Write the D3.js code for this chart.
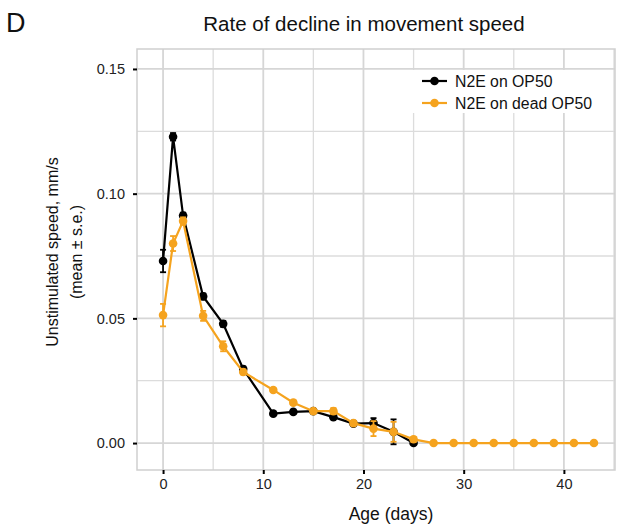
<!DOCTYPE html>
<html><head><meta charset="utf-8">
<script src="https://cdn.jsdelivr.net/npm/d3@7"></script>
<style>body{margin:0;background:#fff}svg{display:block;font-family:"Liberation Sans",Arial,sans-serif}</style>
</head><body>
<svg id="c" width="618" height="529"></svg>
<script>
const seriesNames = ["N2E on OP50", "N2E on dead OP50"];
const seriesColors = ["#000000", "#F5A31E"];
const daysOP50 = [0, 1, 2, 4, 6, 8, 11, 13, 15, 17, 19, 21, 23, 25];
const speedOP50 = [0.073, 0.1228, 0.0912, 0.0588, 0.0478, 0.0297, 0.0118, 0.0125, 0.0128, 0.0104, 0.0078, 0.008, 0.0045, 0.0];
const seOP50 = [0.0045, 0.0015, 0.0012, 0.0012, 0.0012, 0.001, 0.0006, 0.0006, 0.0006, 0.0006, 0.0006, 0.002, 0.005, 0.0];
const daysDead = [0, 1, 2, 4, 6, 8, 11, 13, 15, 17, 19, 21, 23, 25, 27, 29, 31, 33, 35, 37, 39, 41, 43];
const speedDead = [0.0513, 0.080, 0.089, 0.051, 0.0388, 0.0285, 0.0213, 0.0162, 0.0128, 0.0128, 0.008, 0.0058, 0.0045, 0.0015, 0, 0, 0, 0, 0, 0, 0, 0, 0];
const seDead = [0.0045, 0.003, 0.0015, 0.002, 0.002, 0.001, 0.0008, 0.0008, 0.0008, 0.0012, 0.0008, 0.003, 0.004, 0.001, 0, 0, 0, 0, 0, 0, 0, 0, 0];
const xTicks = [0, 10, 20, 30, 40];
const yTicks = [0.00, 0.05, 0.10, 0.15];
const xMinor = [5, 15, 25, 35, 45];
const yMinor = [0.025, 0.075, 0.125];

const svg = d3.select("#c");
const L = 137, R = 615, T = 49, B = 470;
const x = d3.scaleLinear().domain([-2.6, 45.1]).range([L, R]);
const y = d3.scaleLinear().domain([-0.0108, 0.158]).range([B, T]);

const grid = svg.append("g");
grid.selectAll(null).data(xMinor.filter(v => x(v) < R)).join("line")
  .attr("x1", d => x(d)).attr("x2", d => x(d)).attr("y1", T).attr("y2", B)
  .attr("stroke", "#dcdcdc").attr("stroke-width", 1.3);
grid.selectAll(null).data(yMinor).join("line")
  .attr("x1", L).attr("x2", R).attr("y1", d => y(d)).attr("y2", d => y(d))
  .attr("stroke", "#dcdcdc").attr("stroke-width", 1.3);
grid.selectAll(null).data(xTicks).join("line")
  .attr("x1", d => x(d)).attr("x2", d => x(d)).attr("y1", T).attr("y2", B)
  .attr("stroke", "#d6d6d6").attr("stroke-width", 1.8);
grid.selectAll(null).data(yTicks).join("line")
  .attr("x1", L).attr("x2", R).attr("y1", d => y(d)).attr("y2", d => y(d))
  .attr("stroke", "#d6d6d6").attr("stroke-width", 1.8);
svg.append("rect").attr("x", L).attr("y", T).attr("width", R - L).attr("height", B - T)
  .attr("fill", "none").attr("stroke", "#cfcfcf").attr("stroke-width", 1.5);

// axes
const xa = svg.append("g").attr("transform", `translate(0,${B})`)
  .call(d3.axisBottom(x).tickValues(xTicks).tickSize(4).tickPadding(5).tickFormat(d3.format("d")));
const ya = svg.append("g").attr("transform", `translate(${L},0)`)
  .call(d3.axisLeft(y).tickValues(yTicks).tickSize(4).tickPadding(8).tickFormat(d3.format(".2f")));
[xa, ya].forEach(a => {
  a.select(".domain").remove();
  a.selectAll(".tick line").attr("stroke", "#000").attr("stroke-width", 2);
  a.selectAll(".tick text").attr("fill", "#222").style("font-size", "14.5px").style("font-family", "Liberation Sans, Arial, sans-serif");
});

// series
const series = [
  {days: daysOP50, v: speedOP50, se: seOP50, color: seriesColors[0]},
  {days: daysDead, v: speedDead, se: seDead, color: seriesColors[1]}
];
const line = d3.line().x(d => x(d[0])).y(d => y(d[1]));
series.forEach(s => {
  const g = svg.append("g");
  const pts = s.days.map((d, i) => [d, s.v[i], s.se[i]]);
  const eb = pts.filter(p => p[2] > 0);
  g.selectAll(null).data(eb).join("line")
    .attr("x1", d => x(d[0])).attr("x2", d => x(d[0]))
    .attr("y1", d => y(d[1] - d[2])).attr("y2", d => y(d[1] + d[2]))
    .attr("stroke", s.color).attr("stroke-width", 1.8);
  [-1, 1].forEach(sg => {
    g.selectAll(null).data(eb).join("line")
      .attr("x1", d => x(d[0]) - 3).attr("x2", d => x(d[0]) + 3)
      .attr("y1", d => y(d[1] + sg * d[2]))
      .attr("y2", d => y(d[1] + sg * d[2]))
      .attr("stroke", s.color).attr("stroke-width", 1.8);
  });
  g.append("path").datum(pts).attr("d", line).attr("fill", "none")
    .attr("stroke", s.color).attr("stroke-width", 2.2);
  g.selectAll(null).data(pts).join("circle")
    .attr("cx", d => x(d[0])).attr("cy", d => y(d[1])).attr("r", 4.3).attr("fill", s.color);
});

// legend
const lg = svg.append("g");
lg.append("rect").attr("x", 410).attr("y", 70).attr("width", 195).attr("height", 43).attr("fill", "#fff");
seriesNames.forEach((n, i) => {
  const cy = 81 + i * 22;
  lg.append("line").attr("x1", 422).attr("x2", 447).attr("y1", cy).attr("y2", cy)
    .attr("stroke", seriesColors[i]).attr("stroke-width", 2.2);
  lg.append("circle").attr("cx", 434.5).attr("cy", cy).attr("r", 4.3).attr("fill", seriesColors[i]);
  lg.append("text").attr("x", 455).attr("y", cy + 5.5).text(n)
    .style("font-size", "15.8px").attr("fill", "#111");
});

// titles
svg.append("text").attr("x", 364).attr("y", 31).attr("text-anchor", "middle")
  .style("font-size", "20.5px").attr("fill", "#111").text("Rate of decline in movement speed");
svg.append("text").attr("x", 6).attr("y", 32).style("font-size", "27px").attr("fill", "#111").text("D");
svg.append("text").attr("x", 391).attr("y", 520).attr("text-anchor", "middle")
  .style("font-size", "17.5px").attr("fill", "#111").text("Age (days)");
const yl = svg.append("text").attr("transform", "translate(0,252) rotate(-90)").attr("text-anchor", "middle")
  .style("font-size", "16px").attr("fill", "#111");
yl.append("tspan").attr("x", 0).attr("y", 58).text("Unstimulated speed, mm/s");
yl.append("tspan").attr("x", 0).attr("y", 82).text("(mean ± s.e.)");
</script>
</body></html>
